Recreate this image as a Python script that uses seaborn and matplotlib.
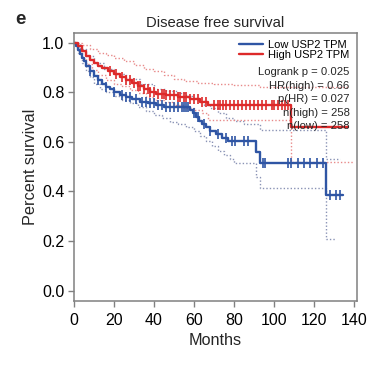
import numpy as np
import pandas as pd
import matplotlib
matplotlib.use("Agg")
import matplotlib.pyplot as plt
import seaborn as sns

# ---------------- data ----------------
low_time = [0, 1, 2, 3, 4, 5, 6, 8, 10, 12, 14, 16, 18, 20, 23, 26, 29, 33, 37, 41, 45,
            58, 59.5, 61, 62.5, 64, 66, 68, 71, 74, 77, 91, 93, 126, 134.5]
low_surv = [1.0, 0.985, 0.97, 0.955, 0.94, 0.925, 0.905, 0.885, 0.865, 0.85, 0.835, 0.823,
            0.812, 0.80, 0.79, 0.78, 0.772, 0.762, 0.755, 0.748, 0.742, 0.728, 0.715, 0.70,
            0.685, 0.672, 0.66, 0.645, 0.63, 0.617, 0.603, 0.56, 0.514, 0.386, 0.386]

high_time = [0, 2, 4, 6, 8, 10, 12, 14, 17, 20, 23, 26, 29, 32, 35, 38, 41, 46, 52, 58,
             63, 67, 108.7, 137]
high_surv = [1.0, 0.985, 0.965, 0.945, 0.93, 0.918, 0.907, 0.897, 0.885, 0.873, 0.862, 0.85,
             0.838, 0.826, 0.813, 0.80, 0.792, 0.787, 0.78, 0.772, 0.762, 0.75, 0.661, 0.661]

low_ci_hi_time = [0, 3, 6, 10, 15, 20, 26, 33, 40, 46, 52, 56, 59, 62, 65, 68, 72, 76, 80,
                  85, 93, 126, 133]
low_ci_hi = [1.0, 0.975, 0.945, 0.92, 0.895, 0.875, 0.855, 0.835, 0.815, 0.805, 0.795, 0.785,
             0.775, 0.765, 0.75, 0.735, 0.715, 0.695, 0.685, 0.67, 0.648, 0.53, 0.53]

low_ci_lo_time = [0, 2, 4, 6, 8, 10, 13, 16, 20, 24, 28, 32, 36, 40, 44, 48, 52, 56, 60, 63,
                  66, 69, 72, 75, 78, 80, 91, 93, 126, 131]
low_ci_lo = [1.0, 0.96, 0.92, 0.885, 0.86, 0.835, 0.815, 0.80, 0.785, 0.77, 0.755, 0.74, 0.725,
             0.71, 0.695, 0.68, 0.67, 0.66, 0.645, 0.625, 0.605, 0.585, 0.565, 0.545, 0.53,
             0.514, 0.46, 0.413, 0.21, 0.21]

high_ci_hi_time = [0, 4, 8, 12, 16, 20, 25, 30, 35, 40, 45, 50, 55, 62, 70, 80, 93, 137]
high_ci_hi = [1.0, 0.99, 0.975, 0.96, 0.95, 0.94, 0.925, 0.91, 0.895, 0.885, 0.87, 0.855,
              0.845, 0.838, 0.832, 0.828, 0.823, 0.823]

high_ci_lo_time = [0, 2, 4, 6, 9, 12, 16, 20, 24, 28, 32, 36, 40, 45, 50, 55, 60, 64, 67,
                   108.7, 140]
high_ci_lo = [1.0, 0.97, 0.94, 0.915, 0.89, 0.87, 0.85, 0.835, 0.825, 0.81, 0.795, 0.78, 0.77,
              0.76, 0.748, 0.738, 0.728, 0.715, 0.69, 0.52, 0.52]

low_censor = [8, 12, 16, 20, 24, 26, 28, 31, 34, 36, 38, 40, 42, 44, 46, 48, 50, 52, 54, 55,
              56, 57, 60, 62, 65, 68, 72, 76, 79, 80.5, 85, 87, 94.5, 95.5, 107, 108.7, 112,
              114.8, 117.8, 121.5, 124.5, 127.8, 131, 132.8]
high_censor = [18, 21, 24, 26, 28, 30, 32, 33, 35, 37, 38, 40, 42, 44, 45, 46, 48, 50, 52, 53,
               55, 56, 58, 60, 62, 64, 66, 70, 72, 73, 74.5, 76, 78, 80, 82, 84, 86, 88, 90,
               92, 94, 96, 99, 100, 102, 104, 105.5, 107]

legend_labels = ["Low USP2 TPM", "High USP2 TPM"]
stats_lines = ["Logrank p = 0.025", "HR(high) = 0.66", "p(HR) = 0.027",
               "n(high) = 258", "n(low) = 258"]
x_ticks = [0, 20, 40, 60, 80, 100, 120, 140]
y_ticks = [0.0, 0.2, 0.4, 0.6, 0.8, 1.0]

# ---------------- style ----------------
sns.set_style("ticks")
plt.rcParams["font.family"] = ["Liberation Sans", "DejaVu Sans"]

BLUE = "#2f55a4"
RED = "#dd2a2a"
BLUE_CI = "#8a93b5"
RED_CI = "#e88a8a"
GREY = "#808080"

fig = plt.figure(figsize=(3.74, 3.70), dpi=100)
ax = fig.add_axes([0.198, 0.1865, 0.756, 0.7243])


def step_value(times, surv, t):
    idx = np.searchsorted(np.asarray(times), np.asarray(t), side="right") - 1
    return np.asarray(surv)[idx]


# confidence intervals (dotted)
for tt, vv, c in [(low_ci_hi_time, low_ci_hi, BLUE_CI), (low_ci_lo_time, low_ci_lo, BLUE_CI),
                  (high_ci_hi_time, high_ci_hi, RED_CI), (high_ci_lo_time, high_ci_lo, RED_CI)]:
    sns.lineplot(x=tt, y=vv, ax=ax, drawstyle="steps-post", estimator=None, sort=False,
                 color=c, lw=1.0, linestyle=(0, (1, 1.5)))

# main curves
sns.lineplot(x=low_time, y=low_surv, ax=ax, drawstyle="steps-post", estimator=None,
             sort=False, color=BLUE, lw=1.7, label=legend_labels[0])
sns.lineplot(x=high_time, y=high_surv, ax=ax, drawstyle="steps-post", estimator=None,
             sort=False, color=RED, lw=1.7, label=legend_labels[1])

# censor marks
ax.plot(low_censor, step_value(low_time, low_surv, low_censor), ls="none", marker="|",
        ms=7.5, mew=1.2, color=BLUE)
ax.plot(high_censor, step_value(high_time, high_surv, high_censor), ls="none", marker="|",
        ms=7.5, mew=1.2, color=RED)

ax.set_xlim(0, 141.4)
ax.set_ylim(-0.042, 1.039)
ax.set_xticks(x_ticks)
ax.set_yticks(y_ticks)
ax.set_xticklabels([str(v) for v in x_ticks])
ax.set_yticklabels([f"{v:.1f}" for v in y_ticks])
ax.tick_params(direction="out", length=4, width=1.0, color=GREY, labelsize=11.5,
               labelcolor="black")
ax.tick_params(axis="x", pad=4.5)
ax.tick_params(axis="y", pad=3)
for s in ax.spines.values():
    s.set_visible(True)
    s.set_color(GREY)
    s.set_linewidth(1.1)

ax.set_xlabel("Months", fontsize=11.7, labelpad=4)
ax.set_ylabel("Percent survival", fontsize=11.7, labelpad=3)
ax.set_title("Disease free survival", fontsize=10.7, pad=4)

leg = ax.legend(loc="upper right", bbox_to_anchor=(0.974, 0.975), frameon=False,
                fontsize=8.0, handlelength=2.2, handletextpad=0.45, labelspacing=0.0,
                borderpad=0, borderaxespad=0)
for t in leg.get_texts():
    t.set_color("black")

ys = [0.854, 0.804, 0.754, 0.703, 0.653]
for txt, yy in zip(stats_lines, ys):
    ax.text(0.974, yy, txt, transform=ax.transAxes, ha="right", va="center", fontsize=8.1)

fig.text(0.04, 0.947, "e", fontsize=13.5, fontweight="bold", ha="left", va="center")

fig.savefig("out.png", dpi=100)
